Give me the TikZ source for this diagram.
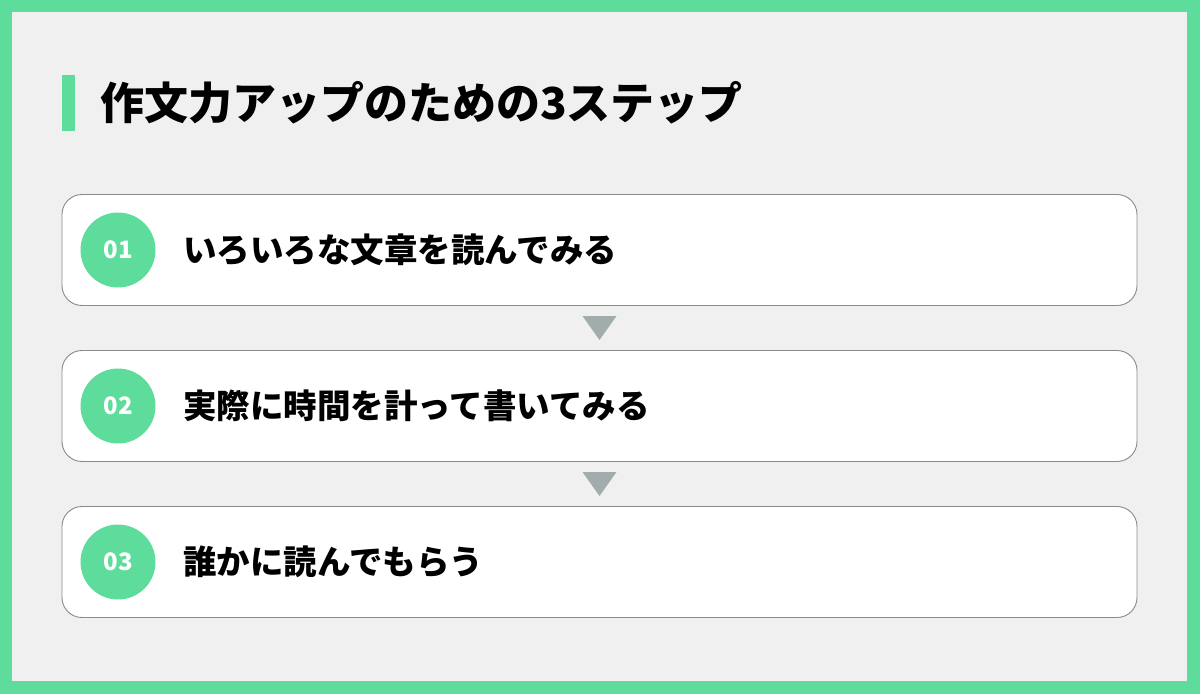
\documentclass[tikz,border=0pt]{standalone}
\usepackage{fontspec}
\usetikzlibrary{calc}
\newfontfamily\jp{Noto Sans CJK JP}
\definecolor{frame}{HTML}{5EDC9C}
\definecolor{bgray}{HTML}{F0F0F0}
\definecolor{edge}{HTML}{8A8A8A}
\definecolor{tri}{HTML}{A2ACAC}
\tikzset{
  stepbox/.style={draw=edge, line width=0.9pt, fill=white, rounded corners=20pt, minimum width=1075pt, minimum height=111pt, inner sep=0pt},
  numdot/.style={circle, fill=frame, minimum size=75pt, inner sep=0pt, text=white, font=\jp\bfseries\fontsize{24}{28}\selectfont},
  steptext/.style={anchor=west, inner sep=0pt, font=\jp\bfseries\fontsize{33.5}{38}\selectfont, text=black},
  arrowtri/.style={fill=tri, draw=none}
}
\begin{document}
\begin{tikzpicture}[x=1pt,y=-1pt]
\useasboundingbox (0,0) rectangle (1200,694);
\fill[frame] (0,0) rectangle (1200,694);
\fill[bgray] (12,12) rectangle (1187,681);
% title
\fill[frame] (62,75) rectangle (75,131);
\node[anchor=west, inner sep=0pt, font=\jp\bfseries\fontsize{44}{50}\selectfont] (title) at (100,103) {作文力アップのための3ステップ};
% boxes
\node[stepbox] (b1) at (599.5,250) {};
\node[stepbox] (b2) at (599.5,406) {};
\node[stepbox] (b3) at (599.5,562) {};
\node[numdot] (n1) at (118,250) {01};
\node[numdot] (n2) at (118,406) {02};
\node[numdot] (n3) at (118,562) {03};
\node[steptext] (t1) at (183,250) {いろいろな文章を読んでみる};
\node[steptext] (t2) at (183,406) {実際に時間を計って書いてみる};
\node[steptext] (t3) at (183,562) {誰かに読んでもらう};
% arrows
\coordinate (a1) at ($(b1.south)!0.5!(b2.north)$);
\coordinate (a2) at ($(b2.south)!0.5!(b3.north)$);
\fill[arrowtri] ($(a1)+(-17,-12)$) -- ($(a1)+(17,-12)$) -- ($(a1)+(0,12)$) -- cycle;
\fill[arrowtri] ($(a2)+(-17,-12)$) -- ($(a2)+(17,-12)$) -- ($(a2)+(0,12)$) -- cycle;
\end{tikzpicture}
\end{document}
